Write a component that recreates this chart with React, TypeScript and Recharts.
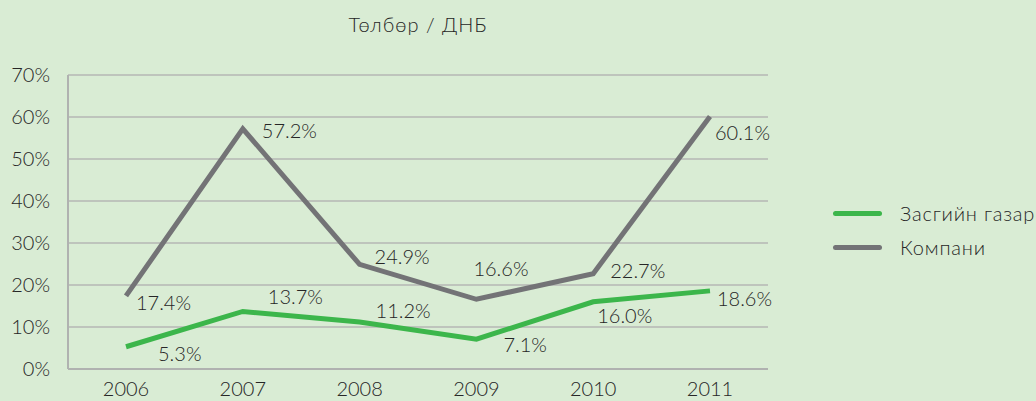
import React from "react";
import {
  LineChart,
  Line,
  XAxis,
  YAxis,
  CartesianGrid,
  LabelList,
} from "recharts";

const years = ["2006", "2007", "2008", "2009", "2010", "2011"];
const government = [5.3, 13.7, 11.2, 7.1, 16.0, 18.6];
const company = [17.4, 57.2, 24.9, 16.6, 22.7, 60.1];
const yTicks = [0, 10, 20, 30, 40, 50, 60, 70];

// label offsets (dx, dy) from each point, to mimic the hand-placed labels
const govOffsets = [[32, 7], [25, -14], [16, -11], [27, 6], [4, 14], [7, 8]];
const compOffsets = [[10, 7], [19, 2], [15, -7], [-3, -30], [17, -3], [5, 16]];

const GREEN = "#3cb64b";
const GRAY = "#737376";
const TEXT = "#262626";
const FONT = "Lato, 'Noto Sans', sans-serif";

const data = years.map((y, i) => ({
  year: y,
  gov: government[i],
  comp: company[i],
}));

function makeLabel(offsets: number[][]) {
  return (props: any) => {
    const { x, y, value, index } = props;
    const [dx, dy] = offsets[index] || [0, 0];
    return (
      <text
        x={x + dx}
        y={y + dy}
        dy="0.35em"
        textAnchor="start"
        fill={TEXT}
        fontSize={20}
        fontFamily={FONT}
        fontWeight={300}
      >
        {Number(value).toFixed(1)}%
      </text>
    );
  };
}

function LegendBox() {
  const items = [
    { name: "Засгийн газар", color: GREEN },
    { name: "Компани", color: GRAY },
  ];
  return (
    <div
      style={{
        position: "absolute",
        left: 833,
        top: 196,
        fontFamily: FONT,
        fontSize: 20,
        fontWeight: 300,
        color: TEXT,
        letterSpacing: 0.8,
        whiteSpace: "nowrap",
      }}
    >
      {items.map((it) => (
        <div
          key={it.name}
          style={{ display: "flex", alignItems: "center", height: 34 }}
        >
          <span
            style={{
              display: "inline-block",
              width: 49,
              height: 5,
              borderRadius: 3,
              background: it.color,
              marginRight: 18,
            }}
          />
          <span>{it.name}</span>
        </div>
      ))}
    </div>
  );
}

export default function App() {
  return (
    <div
      style={{
        position: "absolute",
        left: 0,
        top: 0,
        width: 1036,
        height: 401,
        background: "#d9ecd4",
        overflow: "hidden",
      }}
    >
      <div
        style={{
          position: "absolute",
          left: 0,
          top: 12,
          width: 836,
          textAlign: "center",
          fontFamily: FONT,
          fontSize: 20,
          fontWeight: 300,
          color: TEXT,
          letterSpacing: 1,
        }}
      >
        Төлбөр / ДНБ
      </div>
      <LineChart
        width={1036}
        height={401}
        data={data}
        margin={{ top: 75, right: 268, bottom: 0, left: 0 }}
      >
        <CartesianGrid vertical={false} stroke="#b5b7b5" strokeWidth={1.3} />
        <XAxis
          dataKey="year"
          padding={{ left: 58, right: 58 }}
          height={32}
          tickLine={false}
          tickSize={0}
          tickMargin={13}
          axisLine={{ stroke: "#b0b2b0", strokeWidth: 2 }}
          tick={{ fill: TEXT, fontSize: 20, fontFamily: FONT, fontWeight: 300 }}
        />
        <YAxis
          width={68}
          domain={[0, 70]}
          ticks={yTicks}
          tickFormatter={(v) => `${v}%`}
          tickLine={false}
          tickSize={0}
          tickMargin={18}
          axisLine={{ stroke: "#b0b2b0", strokeWidth: 2 }}
          tick={{ fill: TEXT, fontSize: 20, fontFamily: FONT, fontWeight: 300 }}
        />
        <Line
          dataKey="gov"
          name="Засгийн газар"
          stroke={GREEN}
          strokeWidth={5}
          dot={false}
          activeDot={false}
          isAnimationActive={false}
        >
          <LabelList dataKey="gov" content={makeLabel(govOffsets)} />
        </Line>
        <Line
          dataKey="comp"
          name="Компани"
          stroke={GRAY}
          strokeWidth={5}
          dot={false}
          activeDot={false}
          isAnimationActive={false}
        >
          <LabelList dataKey="comp" content={makeLabel(compOffsets)} />
        </Line>
      </LineChart>
      <LegendBox />
    </div>
  );
}
